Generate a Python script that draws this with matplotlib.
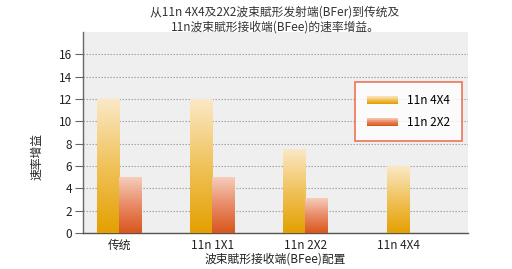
import matplotlib
matplotlib.use("Agg")
import matplotlib.pyplot as plt
import numpy as np
from matplotlib.colors import LinearSegmentedColormap
from matplotlib.legend_handler import HandlerBase
from matplotlib.patches import Rectangle

plt.rcParams['font.family'] = ['Noto Sans CJK SC', 'DejaVu Sans']

categories = ['传统', '11n 1X1', '11n 2X2', '11n 4X4']
gain_4x4 = [12, 12, 7.5, 6]
gain_2x2 = [5, 5, 3.1, None]
series_names = ['11n 4X4', '11n 2X2']
yticks = [0, 2, 4, 6, 8, 10, 12, 14, 16]

orange_cmap = LinearSegmentedColormap.from_list('o', ['#e4a000', '#f0c25a', '#fbe8c6'])
red_cmap = LinearSegmentedColormap.from_list('r', ['#d9561c', '#e88a66', '#f6cdbb'])

fig = plt.figure(figsize=(5.12, 2.69), dpi=100)
ax = fig.add_axes([0.162, 0.134, 0.752, 0.747])
ax.set_facecolor('#efefef')

grad = np.linspace(0, 1, 256).reshape(-1, 1)
width = 0.24
x = np.arange(len(categories))


def grad_bar(xc, h, cmap):
    ax.imshow(grad, cmap=cmap, origin='lower', aspect='auto',
              extent=[xc - width / 2, xc + width / 2, 0, h], zorder=3,
              interpolation='bilinear')


for i in range(len(categories)):
    if gain_2x2[i] is None:
        grad_bar(x[i], gain_4x4[i], orange_cmap)
    else:
        grad_bar(x[i] - width / 2, gain_4x4[i], orange_cmap)
        grad_bar(x[i] + width / 2, gain_2x2[i], red_cmap)

ax.set_xlim(-0.39, 3.75)
ax.set_ylim(0, 18)
ax.set_yticks(yticks)
ax.set_xticks(x)
ax.set_xticklabels(categories)
ax.tick_params(axis='x', length=0, pad=4, labelsize=8.5, colors='#222222')
ax.tick_params(axis='y', length=6, width=0.8, color='#666666', labelsize=8.5,
               labelcolor='#222222', pad=2)
ax.grid(axis='y', color='#9a9a9a', linestyle=(0, (1.2, 1.5)), linewidth=0.8, zorder=1)
ax.set_axisbelow(True)

for s in ['top', 'right']:
    ax.spines[s].set_visible(False)
ax.spines['left'].set_color('#666666')
ax.spines['bottom'].set_color('#555555')
ax.spines['left'].set_linewidth(1.0)
ax.spines['bottom'].set_linewidth(1.0)

ax.set_xlabel('波束賦形接收端(BFee)配置', fontsize=8.5, color='#222222', labelpad=1)
ax.set_ylabel('速率增益', fontsize=8.5, color='#222222')
ax.yaxis.set_label_coords(-0.104, 0.38)

fig.text(0.537, 0.927, '从11n 4X4及2X2波束賦形发射端(BFer)到传统及\n11n波束賦形接收端(BFee)的速率增益。',
         fontsize=8.5, color='#333333', ha='center', va='center', linespacing=1.2)


class GradHandler(HandlerBase):
    def __init__(self, cmap):
        super().__init__()
        self.cmap = cmap

    def create_artists(self, legend, orig_handle, xdescent, ydescent, width, height, fontsize, trans):
        arts = []
        n = 12
        for k in range(n):
            c = self.cmap(1 - k / (n - 1))
            r = Rectangle((-xdescent, -ydescent + height * (1 - (k + 1) / n)), width, height / n,
                          facecolor=c, edgecolor='none', transform=trans)
            arts.append(r)
        return arts


h1 = Rectangle((0, 0), 1, 1)
h2 = Rectangle((0, 0), 1, 1)
leg = ax.legend([h1, h2], series_names,
                handler_map={h1: GradHandler(orange_cmap), h2: GradHandler(red_cmap)},
                loc='upper right', bbox_to_anchor=(0.985, 0.75), fontsize=8.5,
                frameon=True, fancybox=False, handlelength=2.6, handleheight=0.7,
                borderpad=1.0, labelspacing=0.75, handletextpad=0.8, borderaxespad=0)
leg.get_frame().set_edgecolor('#e8542e')
leg.get_frame().set_linewidth(1.2)
leg.get_frame().set_facecolor('white')
leg.set_zorder(5)

fig.savefig('out.png', dpi=100)
